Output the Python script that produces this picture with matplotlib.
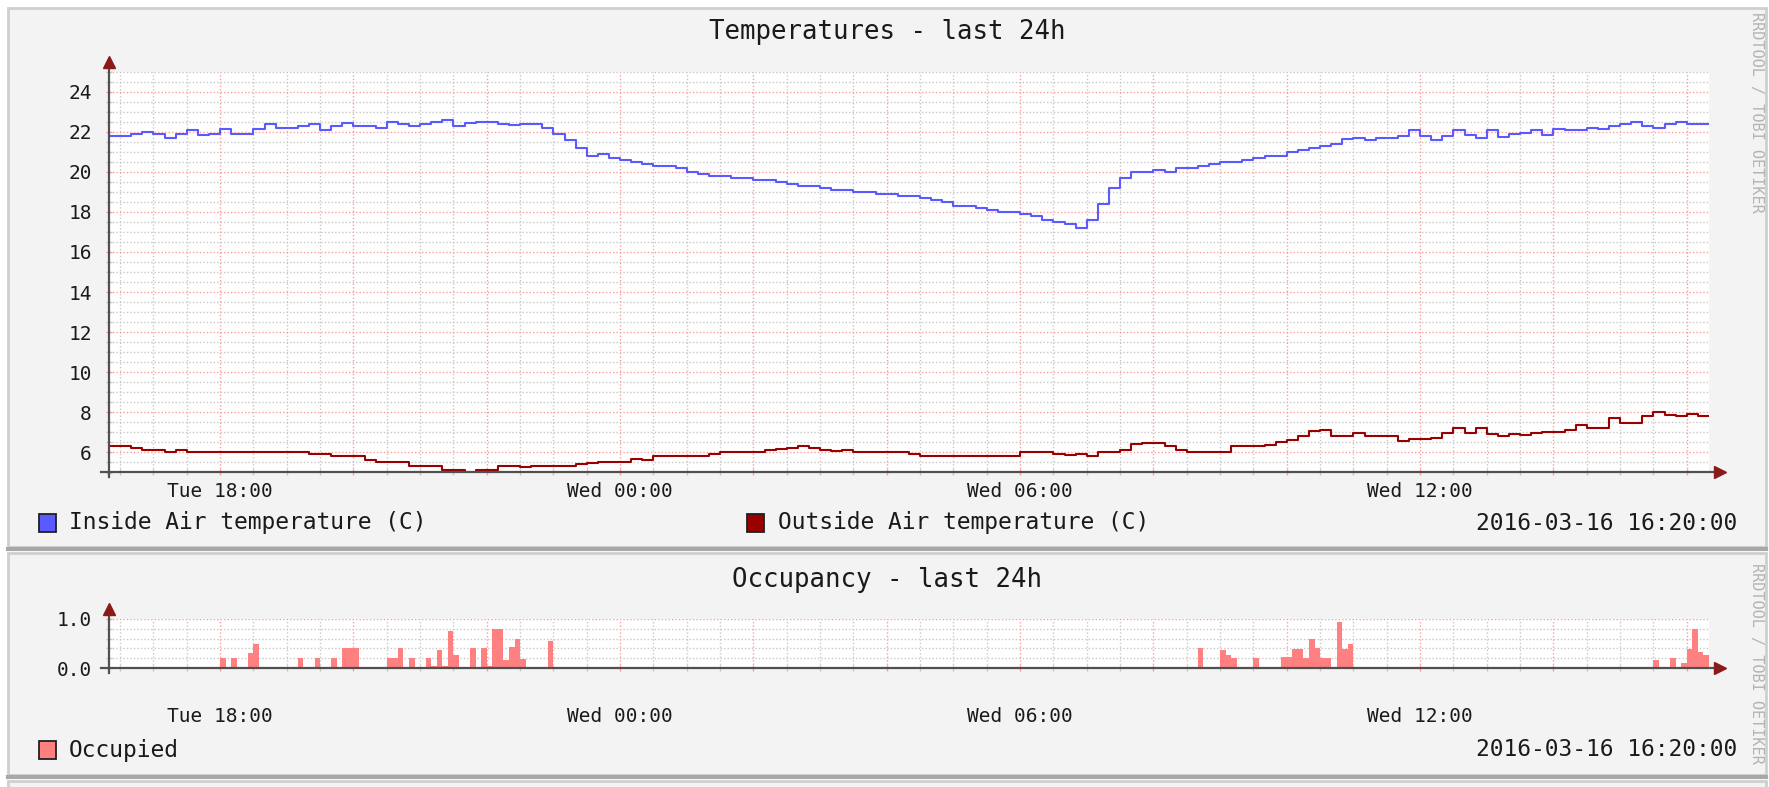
import numpy as np
import matplotlib
matplotlib.use("Agg")
import matplotlib.pyplot as plt
import matplotlib.dates as mdates
from matplotlib.patches import Rectangle
from matplotlib.ticker import FuncFormatter, MultipleLocator

plt.rcParams['font.family'] = ['DejaVu Sans Mono']

# ---- data ----
start = np.datetime64('2016-03-15T16:20')
end = np.datetime64('2016-03-16T16:20')
temp_step_min = 10   # one value every 10 minutes
occ_step_min = 5     # occupancy slots of 5 minutes

inside_temp = [
    21.8, 21.8, 21.9, 22.0, 21.9, 21.7, 21.9, 22.1, 21.85, 21.9,
    22.15, 21.9, 21.9, 22.15, 22.4, 22.2, 22.2, 22.3, 22.4, 22.1,
    22.3, 22.45, 22.3, 22.3, 22.2, 22.5, 22.4, 22.3, 22.4, 22.5,
    22.6, 22.3, 22.45, 22.5, 22.5, 22.4, 22.35, 22.4, 22.4, 22.2,
    21.9, 21.6, 21.2, 20.8, 20.9, 20.7, 20.6, 20.5, 20.4, 20.3,
    20.3, 20.2, 20.0, 19.9, 19.8, 19.8, 19.7, 19.7, 19.6, 19.6,
    19.5, 19.4, 19.3, 19.3, 19.2, 19.1, 19.1, 19.0, 19.0, 18.9,
    18.9, 18.8, 18.8, 18.7, 18.6, 18.5, 18.3, 18.3, 18.2, 18.1,
    18.0, 18.0, 17.9, 17.8, 17.6, 17.5, 17.4, 17.2, 17.6, 18.4,
    19.2, 19.7, 20.0, 20.0, 20.1, 20.0, 20.2, 20.2, 20.3, 20.4,
    20.5, 20.5, 20.6, 20.7, 20.8, 20.8, 21.0, 21.1, 21.2, 21.3,
    21.4, 21.65, 21.7, 21.6, 21.7, 21.7, 21.8, 22.1, 21.8, 21.6,
    21.8, 22.1, 21.85, 21.7, 22.1, 21.75, 21.9, 21.95, 22.1, 21.85,
    22.15, 22.1, 22.1, 22.2, 22.15, 22.3, 22.4, 22.5, 22.3, 22.2,
    22.4, 22.5, 22.4, 22.4,
]

outside_temp = [
    6.3, 6.3, 6.2, 6.1, 6.1, 6.0, 6.1, 6.0, 6.0, 6.0,
    6.0, 6.0, 6.0, 6.0, 6.0, 6.0, 6.0, 6.0, 5.9, 5.9,
    5.8, 5.8, 5.8, 5.6, 5.5, 5.5, 5.5, 5.3, 5.3, 5.3,
    5.1, 5.1, 5.0, 5.1, 5.1, 5.3, 5.3, 5.25, 5.3, 5.3,
    5.3, 5.3, 5.4, 5.45, 5.5, 5.5, 5.5, 5.65, 5.6, 5.8,
    5.8, 5.8, 5.8, 5.8, 5.9, 6.0, 6.0, 6.0, 6.0, 6.1,
    6.15, 6.2, 6.3, 6.2, 6.1, 6.05, 6.1, 6.0, 6.0, 6.0,
    6.0, 6.0, 5.9, 5.8, 5.8, 5.8, 5.8, 5.8, 5.8, 5.8,
    5.8, 5.8, 6.0, 6.0, 6.0, 5.9, 5.85, 5.9, 5.8, 6.0,
    6.0, 6.1, 6.4, 6.45, 6.45, 6.3, 6.1, 6.0, 6.0, 6.0,
    6.0, 6.3, 6.3, 6.3, 6.35, 6.5, 6.6, 6.8, 7.05, 7.1,
    6.8, 6.8, 6.95, 6.8, 6.8, 6.8, 6.55, 6.65, 6.65, 6.7,
    6.95, 7.2, 6.95, 7.2, 6.9, 6.8, 6.9, 6.85, 6.95, 7.0,
    7.0, 7.1, 7.35, 7.2, 7.2, 7.7, 7.45, 7.45, 7.8, 8.0,
    7.85, 7.8, 7.9, 7.8,
]

# occupancy: 5-minute slot index since start -> value (all other slots are 0)
occ_slots = [20, 22, 25, 26, 34, 37, 40, 42, 43, 44,
             50, 51, 52, 54, 57, 58, 59, 60, 61, 62,
             65, 67, 68, 69, 70, 71, 72, 73, 74, 79, 80,
             196, 200, 201, 202, 206, 211, 212, 213, 214, 215,
             216, 217, 218, 219, 221, 222, 223,
             278, 279, 281, 283, 284, 285, 286, 287]
occ_values = [0.2, 0.2, 0.3, 0.5, 0.2, 0.2, 0.2, 0.4, 0.4, 0.4,
              0.2, 0.2, 0.4, 0.2, 0.2, 0.04, 0.36, 0.04, 0.76, 0.26,
              0.4, 0.4, 0.05, 0.8, 0.8, 0.16, 0.43, 0.6, 0.18, 0.55, 0.03,
              0.4, 0.36, 0.26, 0.2, 0.2, 0.22, 0.22, 0.38, 0.38, 0.2,
              0.6, 0.4, 0.2, 0.2, 0.93, 0.38, 0.48,
              0.16, 0.03, 0.2, 0.1, 0.38, 0.8, 0.33, 0.26]

labels_temp = ["Inside Air temperature (C)", "Outside Air temperature (C)"]
label_occ = "Occupied"
stamp = "2016-03-16 16:20:00"
watermark = "RRDTOOL / TOBI OETIKER"

# ---- colours ----
c_inside = '#5a5aff'
c_outside = '#990000'
c_occ = '#ff8080'
c_panel = '#f3f3f3'
c_minor = '#c8c8c8'
c_major = '#ff9a9a'
c_axis = '#505050'
c_arrow = '#8b1a1a'
c_text = '#1a1a1a'

W, H = 1769, 787
fig = plt.figure(figsize=(W / 100, H / 100), dpi=100, facecolor='white')


def fx(x):
    return x / W


def fy(y):
    return 1 - y / H


def px_rect(left, top, width, height):
    return [left / W, 1 - (top + height) / H, width / W, height / H]


# panels
for top, bottom in [(8, 547), (553, 775), (781, 800)]:
    fig.add_artist(Rectangle((fx(8), fy(bottom)), fx(1758), (bottom - top) / H,
                             transform=fig.transFigure, facecolor=c_panel,
                             edgecolor='#cfcfcf', lw=2, zorder=0))
for y in (548.5, 776.5):
    fig.add_artist(plt.Line2D([fx(8), fx(1766)], [fy(y), fy(y)],
                              transform=fig.transFigure, color='#a8a8a8', lw=3, zorder=1))

t_edges = mdates.date2num(start + np.arange(len(inside_temp) + 1) * np.timedelta64(temp_step_min, 'm'))
x0, x1 = mdates.date2num(start), mdates.date2num(end)


def hour_fmt(v, pos):
    d = mdates.num2date(v)
    if d.hour % 6 == 0 and d.minute == 0:
        return d.strftime('%a %H:%M')
    return ''


def style_axes(ax, ymin, ymax, major, minor, yfmt, xpad):
    ax.set_facecolor('white')
    ax.set_xlim(x0, x1)
    ax.set_ylim(ymin, ymax)
    ax.xaxis.set_major_locator(mdates.HourLocator(byhour=range(0, 24, 2)))
    ax.xaxis.set_minor_locator(mdates.MinuteLocator(byminute=[0, 30]))
    ax.xaxis.set_major_formatter(FuncFormatter(hour_fmt))
    ax.yaxis.set_major_locator(MultipleLocator(major))
    ax.yaxis.set_minor_locator(MultipleLocator(minor))
    ax.yaxis.set_major_formatter(FuncFormatter(yfmt))
    ax.grid(which='minor', color=c_minor, ls=(0, (1, 1.5)), lw=1)
    ax.grid(which='major', color=c_major, ls=(0, (1, 1.5)), lw=1)
    ax.set_axisbelow(True)
    for s in ax.spines.values():
        s.set_visible(False)
    ax.tick_params(which='both', direction='inout', length=5, width=1, colors=c_minor,
                   labelcolor=c_text, labelsize=14)
    ax.tick_params(which='major', colors=c_major, labelcolor=c_text)
    ax.tick_params(axis='x', pad=xpad)
    ax.tick_params(axis='y', pad=10)
    h = ax.get_position().height * H
    w = ax.get_position().width * W
    # axis lines with arrows
    ax.plot([-8 / w, 1 + 10 / w], [0, 0], color=c_axis, lw=1.6, transform=ax.transAxes, clip_on=False, zorder=5)
    ax.plot([0, 0], [-5 / h, 1 + 7 / h], color=c_axis, lw=1.6, transform=ax.transAxes, clip_on=False, zorder=5)
    ax.plot([1 + 11 / w], [0], marker='>', ms=8, color=c_arrow, transform=ax.transAxes, clip_on=False, zorder=6)
    ax.plot([0], [1 + 10 / h], marker='^', ms=8, color=c_arrow, transform=ax.transAxes, clip_on=False, zorder=6)


# ---- temperatures ----
ax1 = fig.add_axes(px_rect(109, 71.5, 1600, 401))
style_axes(ax1, 5, 25, 2, 0.5, lambda v, p: '%d' % round(v), 4)
ax1.step(t_edges, inside_temp + [inside_temp[-1]], where='post', color=c_inside, lw=1.5, zorder=3)
ax1.step(t_edges, outside_temp + [outside_temp[-1]], where='post', color=c_outside, lw=1.5, zorder=3)

fig.text(fx(887), fy(32), "Temperatures - last 24h", ha='center', va='center', size=18.5, color=c_text)

for (x_box, x_txt), label, col in zip([(39, 69), (747, 778)], labels_temp, [c_inside, c_outside]):
    fig.add_artist(Rectangle((fx(x_box), fy(532)), 17 / W, 18 / H, transform=fig.transFigure,
                             facecolor=col, edgecolor='#202020', lw=1.3))
    fig.text(fx(x_txt), fy(523), label, ha='left', va='center', size=16.5, color=c_text)
fig.text(fx(1737), fy(523), stamp, ha='right', va='center', size=16.5, color=c_text)
fig.text(fx(1756), fy(12), watermark, rotation=270, ha='center', va='top', size=11, color='#b4b4b4')

# ---- occupancy ----
occ = np.zeros(24 * 60 // occ_step_min)
occ[occ_slots] = occ_values
o_left = mdates.date2num(start + np.arange(len(occ)) * np.timedelta64(occ_step_min, 'm'))

ax2 = fig.add_axes(px_rect(109, 619, 1600, 49))
style_axes(ax2, 0, 1, 1, 0.2, lambda v, p: '%.1f' % v, 25.5)
ax2.bar(o_left, occ, width=occ_step_min / 1440, align='edge', color=c_occ, lw=0, zorder=3)

fig.text(fx(887), fy(580), "Occupancy - last 24h", ha='center', va='center', size=18.5, color=c_text)
fig.add_artist(Rectangle((fx(39), fy(759)), 17 / W, 18 / H, transform=fig.transFigure,
                         facecolor=c_occ, edgecolor='#202020', lw=1.3))
fig.text(fx(69), fy(750), label_occ, ha='left', va='center', size=16.5, color=c_text)
fig.text(fx(1737), fy(750), stamp, ha='right', va='center', size=16.5, color=c_text)
fig.text(fx(1756), fy(563), watermark, rotation=270, ha='center', va='top', size=11, color='#b4b4b4')

fig.savefig('out.png', dpi=100, facecolor=fig.get_facecolor())
